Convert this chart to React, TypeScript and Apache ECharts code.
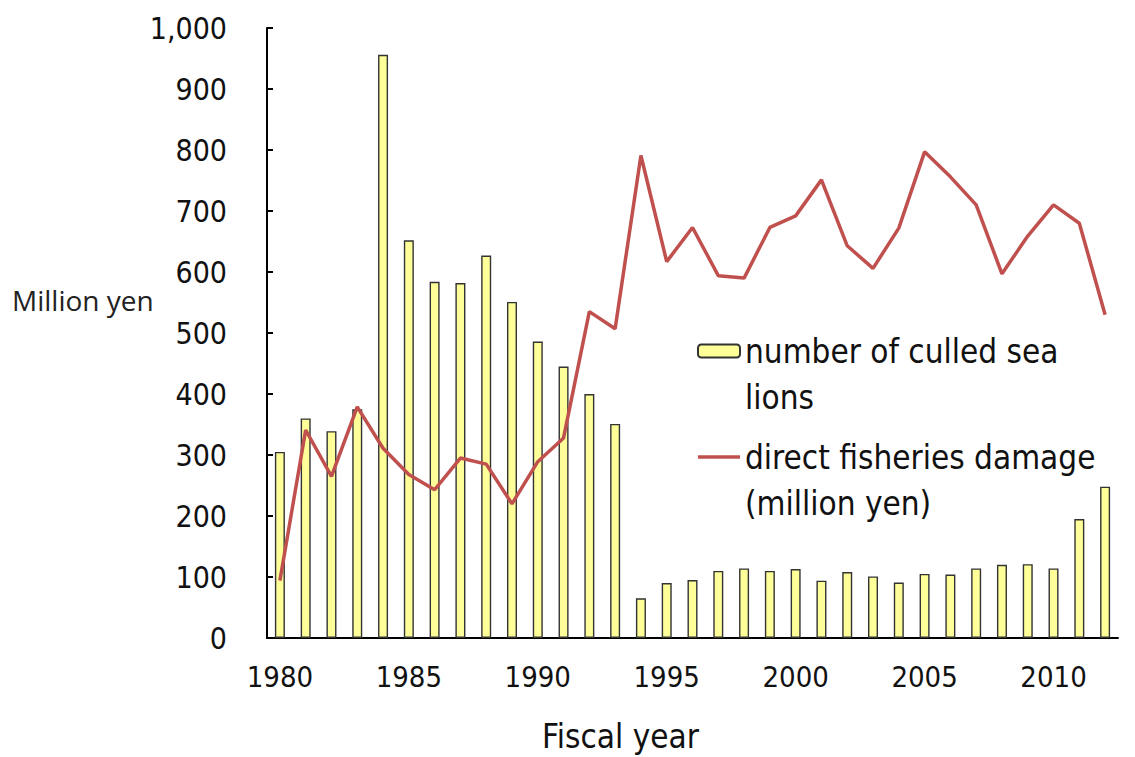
import React, { useEffect, useRef } from "react";
import * as echarts from "echarts";

const years = [
  "1980", "1981", "1982", "1983", "1984", "1985", "1986", "1987", "1988", "1989",
  "1990", "1991", "1992", "1993", "1994", "1995", "1996", "1997", "1998", "1999",
  "2000", "2001", "2002", "2003", "2004", "2005", "2006", "2007", "2008", "2009",
  "2010", "2011", "2012",
];

const culledSeaLions = [
  305, 360, 339, 375, 956, 652, 584, 582, 627, 551, 486, 445, 400, 351,
  65, 90, 95, 110, 114, 110, 113, 94, 108, 101, 91, 105, 104, 114, 120, 121, 114, 195, 248,
];

const fisheriesDamage = [
  94, 341, 265, 379, 311, 268, 243, 295, 285, 220, 289, 328, 535, 507,
  791, 617, 673, 594, 590, 673, 692, 751, 643, 606, 672, 797, 756, 710, 597, 659, 710, 680, 530,
];

const barName = "number of culled sea lions";
const lineName = "direct fisheries damage (million yen)";
const legendLabels: Record<string, string> = {
  [barName]: "\u00a0\nnumber of culled sea\nlions",
  [lineName]: "\u00a0\ndirect fisheries damage\n(million yen)",
};

const FONT = "'DejaVu Sans Condensed', 'DejaVu Sans', sans-serif";

export default function App() {
  const ref = useRef<HTMLDivElement>(null);
  useEffect(() => {
    if (!ref.current) return;
    const chart = echarts.init(ref.current, undefined, { renderer: "svg" });
    chart.setOption({
      animation: false,
      backgroundColor: "#ffffff",
      grid: {
        left: 267,
        top: 28,
        width: 851,
        bottom: 119,
        containLabel: false,
        outerBoundsMode: "none",
      },
      legend: {
        orient: "vertical",
        left: 697,
        top: 282,
        padding: 0,
        itemGap: -32,
        itemWidth: 42,
        itemHeight: 13,
        selectedMode: false,
        data: [
          { name: barName },
          { name: lineName, icon: "path://M0,0H42V3.5H0Z" },
        ],
        formatter: (name: string) => legendLabels[name] || name,
        textStyle: {
          fontFamily: FONT,
          fontSize: 33,
          color: "#111",
          lineHeight: 46,
        },
      },
      xAxis: {
        type: "category",
        data: years,
        boundaryGap: true,
        name: "Fiscal year",
        nameLocation: "middle",
        nameGap: 82,
        nameTextStyle: {
          fontFamily: FONT,
          fontSize: 33,
          color: "#111",
          padding: [0, 144, 0, 0],
        },
        axisLine: { lineStyle: { color: "#000", width: 2 } },
        axisTick: { inside: true, length: 5, interval: 4, lineStyle: { color: "#000", width: 2 } },
        axisLabel: {
          interval: 4,
          margin: 24,
          fontFamily: FONT,
          fontSize: 29,
          color: "#111",
        },
        splitLine: { show: false },
      },
      yAxis: {
        type: "value",
        min: 0,
        max: 1000,
        interval: 100,
        axisLine: { show: true, lineStyle: { color: "#000", width: 2 } },
        axisTick: { show: true, inside: true, length: 6, lineStyle: { color: "#000", width: 2 } },
        axisLabel: {
          margin: 40,
          fontFamily: FONT,
          fontSize: 30,
          color: "#111",
          formatter: (v: number) => v.toLocaleString("en-US"),
        },
        splitLine: { show: false },
      },
      graphic: [
        {
          type: "text",
          left: 12,
          top: 286,
          style: {
            text: "Million yen",
            font: "28px 'Open Sans', sans-serif",
            fill: "#222",
          },
        },
      ],
      series: [
        {
          name: barName,
          type: "bar",
          data: culledSeaLions,
          barWidth: 10,
          itemStyle: { color: "#FFFF99", borderColor: "#333", borderWidth: 1.4 },
          z: 2,
        },
        {
          name: lineName,
          type: "line",
          data: fisheriesDamage,
          symbol: "none",
          showSymbol: false,
          lineStyle: { color: "#C0504D", width: 3.5 },
          itemStyle: { color: "#C0504D" },
          z: 3,
        },
      ],
    });
    return () => chart.dispose();
  }, []);
  return (
    <div
      ref={ref}
      style={{ position: "absolute", left: 0, top: 0, width: 1135, height: 757 }}
    />
  );
}
